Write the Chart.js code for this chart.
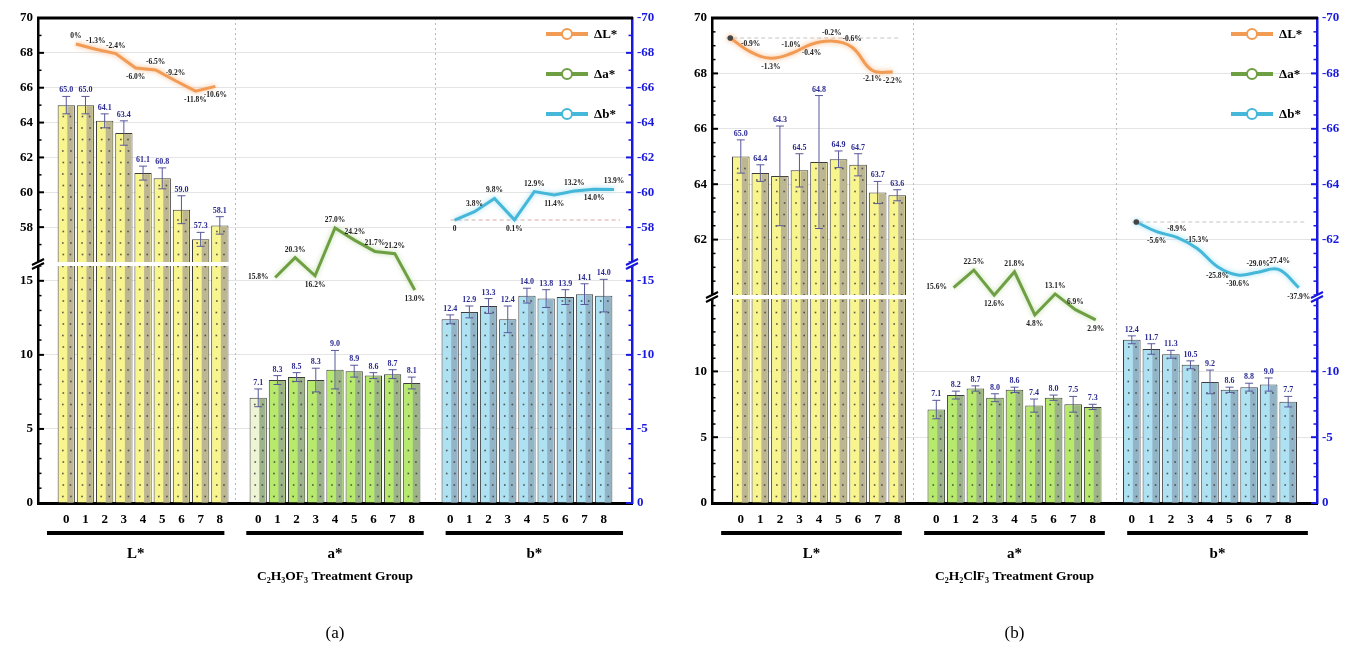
<!DOCTYPE html>
<html>
<head>
<meta charset="utf-8">
<script src="https://cdn.jsdelivr.net/npm/chart.js@4.4.1/dist/chart.umd.min.js"></script>
<style>
  html, body { margin:0; padding:0; background:#fff; }
  body { width:1355px; height:659px; position:relative; overflow:hidden; }
  canvas { position:absolute; }
</style>
</head>
<body>
<canvas id="aTop" width="680" height="262" style="left:0;top:0"></canvas>
<canvas id="aBot" width="680" height="393" style="left:0;top:266px"></canvas>
<canvas id="aOver" width="680" height="659" style="left:0;top:0"></canvas>
<canvas id="bTop" width="683" height="295" style="left:672px;top:0"></canvas>
<canvas id="bBot" width="683" height="360" style="left:672px;top:299px"></canvas>
<canvas id="bOver" width="683" height="659" style="left:672px;top:0"></canvas>
<script>
// ---------------- DATA ----------------
const groupNames = ['L*', 'a*', 'b*'];
const treatments = ['0', '1', '2', '3', '4', '5', '6', '7', '8'];
const deltaNames = ['ΔL*', 'Δa*', 'Δb*'];

// Panel (a): C2H3OF3
const aL    = [65.0, 65.0, 64.1, 63.4, 61.1, 60.8, 59.0, 57.3, 58.1];
const aLerr = [0.5, 0.5, 0.4, 0.7, 0.4, 0.6, 0.8, 0.4, 0.5];
const aA    = [7.1, 8.3, 8.5, 8.3, 9.0, 8.9, 8.6, 8.7, 8.1];
const aAerr = [0.6, 0.3, 0.3, 0.8, 1.3, 0.4, 0.2, 0.3, 0.4];
const aB    = [12.4, 12.9, 13.3, 12.4, 14.0, 13.8, 13.9, 14.1, 14.0];
const aBerr = [0.3, 0.4, 0.5, 0.9, 0.5, 0.6, 0.5, 0.7, 1.1];
const aDL   = [null, 0, -1.3, -2.4, -6.0, -6.5, -9.2, -11.8, -10.6];
const aDa   = [null, 15.8, 20.3, 16.2, 27.0, 24.2, 21.7, 21.2, 13.0];
const aDb   = [0, 3.8, 9.8, 0.1, 12.9, 11.4, 13.2, 14.0, 13.9];
const aTicksUpper = [58, 60, 62, 64, 66, 68, 70];
const aTicksLower = [0, 5, 10, 15];

// Panel (b): C2H2ClF3
const bL    = [65.0, 64.4, 64.3, 64.5, 64.8, 64.9, 64.7, 63.7, 63.6];
const bLerr = [0.6, 0.3, 1.8, 0.6, 2.4, 0.3, 0.4, 0.4, 0.2];
const bA    = [7.1, 8.2, 8.7, 8.0, 8.6, 7.4, 8.0, 7.5, 7.3];
const bAerr = [0.7, 0.3, 0.2, 0.3, 0.2, 0.5, 0.2, 0.6, 0.2];
const bB    = [12.4, 11.7, 11.3, 10.5, 9.2, 8.6, 8.8, 9.0, 7.7];
const bBerr = [0.3, 0.4, 0.3, 0.3, 0.9, 0.2, 0.3, 0.5, 0.4];
const bDL   = [0, -0.9, -1.3, -1.0, -0.4, -0.2, -0.6, -2.1, -2.2];
const bDa   = [null, 15.6, 22.5, 12.6, 21.8, 4.8, 13.1, 6.9, 2.9];
const bDb   = [0, -5.6, -8.9, -15.3, -25.8, -30.6, -29.0, -27.4, -37.9];
const bTicksUpper = [62, 64, 66, 68, 70];
const bTicksLower = [0, 5, 10];

// ---------------- STYLE / LAYOUT ----------------
const FONT = '"Liberation Serif","DejaVu Serif",serif';
Chart.defaults.font.family = FONT;
Chart.defaults.animation = false;

const barStyles = [
  { main: '#f8f48e', stripe: '#bdb692', pale: '#f8f48e' },
  { main: '#b6e96c', stripe: '#9db38a', pale: '#eef5d4' },
  { main: '#aee2f2', stripe: '#93b4c6', pale: '#cdeef8' }
];
const lineStyles = [
  { color: '#f29b55', glow: 'rgba(246,170,110,0.85)' },
  { color: '#6f9f43', glow: 'rgba(150,200,110,0.6)' },
  { color: '#45b7d9', glow: 'rgba(120,210,235,0.7)' }
];
const AXIS_BLUE = '#1818e0';
const barSlots = [];
groupNames.forEach((g, gi) => treatments.forEach((t, i) => barSlots.push(gi * 10 + i)));

const panels = [
  {
    ids: ['aTop', 'aBot', 'aOver'], width: 680, plotLeft: 38, plotRight: 632,
    upper: { min: 56, max: 70, ticks: aTicksUpper, minor: 1, h: 262 },
    lower: { min: 0, max: 16, ticks: aTicksLower, minor: 1, top: 266 },
    breakY: 264,
    bars: [aL, aA, aB], errs: [aLerr, aAerr, aBerr],
    deltas: [aDL, aDa, aDb],
    deltaAxes: [[-114.75, 6.5], [-35.1, 74.4], [-128.6, 91.8]],
    labelPos: [
      ['', 'a', 'a', 'a', 'b', 'a', 'a', 'b', 'b'],
      ['', 'l', 'a', 'b', 'a', 'a', 'a', 'a', 'b'],
      ['b', 'a', 'a', 'b', 'a', 'b', 'a', 'b', 'a']
    ],
    tension: [0, 0, 0], startDot: false,
    refs: [{ line: 2, color: '#d9a9a9' }],
    paleFirstA: true,
    title: 'C₂H₃OF₃ Treatment Group', caption: '(a)'
  },
  {
    ids: ['bTop', 'bBot', 'bOver'], width: 683, plotLeft: 40, plotRight: 645,
    upper: { min: 60, max: 70, ticks: bTicksUpper, minor: 0.5, h: 295 },
    lower: { min: 0, max: 15.5, ticks: bTicksLower, minor: 1, top: 299 },
    breakY: 297,
    bars: [bL, bA, bB], errs: [bLerr, bAerr, bBerr],
    deltas: [bDL, bDa, bDb],
    deltaAxes: [[-30.0, 1.29], [-69.2, 121.7], [-162.4, 117.9]],
    labelPos: [
      ['', 'a', 'b', 'a', 'b', 'a', 'a', 'b', 'b'],
      ['', 'l', 'a', 'b', 'a', 'b', 'a', 'a', 'b'],
      ['', 'b', 'a', 'a', 'b', 'b', 'a', 'a', 'b']
    ],
    tension: [0.4, 0, 0.4], startDot: true,
    refs: [{ line: 0, color: '#c4c4c4' }, { line: 2, color: '#c4c4c4' }],
    paleFirstA: false,
    title: 'C₂H₂ClF₃ Treatment Group', caption: '(b)'
  }
];

// ---------------- PLUGINS ----------------
const barDecor = {
  id: 'barDecor',
  afterDatasetDraw(chart, args) {
    const ds = chart.data.datasets[args.index];
    if (!ds.decor) return;
    const ctx = chart.ctx, ca = chart.chartArea;
    ctx.save();
    ctx.beginPath();
    ctx.rect(ca.left, ca.top, ca.right - ca.left, ca.bottom - ca.top);
    ctx.clip();
    args.meta.data.forEach((el) => {
      const p = el.getProps(['x', 'y', 'base', 'width'], true);
      const top = Math.min(p.y, p.base), bot = Math.max(p.y, p.base);
      const l = p.x - p.width / 2;
      ctx.fillStyle = ds.decor.stripe;
      ctx.fillRect(l + p.width * 0.56, top + 1, p.width * 0.36, bot - top - 1);
      ctx.fillStyle = 'rgba(60,60,60,0.85)';
      const cols = [l + p.width * 0.3, l + p.width * 0.74];
      let k = 0;
      for (let yy = bot - 6; yy > top + 3; yy -= 11.5) {
        if (yy < ca.bottom + 2 && yy > ca.top - 2) {
          cols.forEach((c, ci) => ctx.fillRect(c - 0.8 + ((k + ci) % 2 ? 0.5 : 0), yy - 0.8, 1.6, 1.6));
        }
        k++;
      }
    });
    ctx.restore();
  }
};

const errBars = {
  id: 'errBars',
  afterDatasetsDraw(chart) {
    const ctx = chart.ctx, ca = chart.chartArea, ys = chart.scales.y;
    ctx.save();
    ctx.beginPath();
    ctx.rect(ca.left, ca.top, ca.right - ca.left, ca.bottom - ca.top);
    ctx.clip();
    chart.data.datasets.forEach((ds, di) => {
      if (!ds.err) return;
      chart.getDatasetMeta(di).data.forEach((el, i) => {
        const v = ds.data[i].y, e = ds.err[i];
        const x = el.x;
        const yt = ys.getPixelForValue(v + e), yb = ys.getPixelForValue(v - e);
        ctx.strokeStyle = '#58589a';
        ctx.lineWidth = 1;
        ctx.beginPath();
        ctx.moveTo(x, yt); ctx.lineTo(x, yb);
        ctx.moveTo(x - 4, yt); ctx.lineTo(x + 4, yt);
        ctx.moveTo(x - 4, yb); ctx.lineTo(x + 4, yb);
        ctx.stroke();
        if (yt > ca.top + 6 && yt < ca.bottom) {
          ctx.fillStyle = '#2a2a92';
          ctx.font = 'bold 8px ' + FONT;
          ctx.textAlign = 'center';
          ctx.textBaseline = 'bottom';
          ctx.fillText(v.toFixed(1), x, yt - 2);
        }
      });
    });
    ctx.restore();
  }
};

const axisTicks = {
  id: 'axisTicks',
  afterDraw(chart, args, opts) {
    if (!opts || !opts.seg) return;
    const seg = opts.seg, ctx = chart.ctx, ca = chart.chartArea, ys = chart.scales.y;
    ctx.save();
    const steps = Math.round((seg.max - seg.min) / seg.minor);
    for (let s = 0; s <= steps; s++) {
      const v = seg.min + s * seg.minor;
      const major = seg.ticks.some(t => Math.abs(t - v) < 1e-6);
      const len = major ? 6 : 3.5;
      const y = ys.getPixelForValue(v);
      if (y < ca.top - 0.5 || y > ca.bottom + 0.5) continue;
      ctx.lineWidth = major ? 2 : 1.5;
      ctx.strokeStyle = '#000';
      ctx.beginPath(); ctx.moveTo(ca.left, y); ctx.lineTo(ca.left + len, y); ctx.stroke();
      ctx.strokeStyle = AXIS_BLUE;
      ctx.beginPath(); ctx.moveTo(ca.right, y); ctx.lineTo(ca.right - len, y); ctx.stroke();
    }
    ctx.restore();
  }
};

const glowPlugin = {
  id: 'glow',
  beforeDatasetDraw(chart, args) {
    const ds = chart.data.datasets[args.index];
    chart.ctx.save();
    if (ds.glow) { chart.ctx.shadowColor = ds.glow; chart.ctx.shadowBlur = 5; }
  },
  afterDatasetDraw(chart) { chart.ctx.restore(); }
};

const overlayDecor = {
  id: 'overlayDecor',
  beforeDatasetsDraw(chart, args, o) {
    const p = o.panel; if (!p) return;
    const ctx = chart.ctx, ca = chart.chartArea, xs = chart.scales.x;
    ctx.save();
    // dotted separators between groups
    ctx.strokeStyle = '#b9b9b9'; ctx.lineWidth = 1; ctx.setLineDash([2, 3]);
    [9, 19].forEach(s => {
      const x = Math.round(xs.getPixelForValue(s)) + 0.5;
      ctx.beginPath(); ctx.moveTo(x, ca.top); ctx.lineTo(x, ca.bottom); ctx.stroke();
    });
    // zero reference lines for deltas
    ctx.setLineDash([4, 3]);
    p.refs.forEach(r => {
      const y = chart.scales['d' + r.line].getPixelForValue(0);
      ctx.strokeStyle = r.color; ctx.lineWidth = 1.2;
      ctx.beginPath();
      ctx.moveTo(xs.getPixelForValue(r.line * 10 - 0.2), y);
      ctx.lineTo(xs.getPixelForValue(r.line * 10 + 8.3), y);
      ctx.stroke();
    });
    ctx.restore();
  },
  afterDraw(chart, args, o) {
    const p = o.panel; if (!p) return;
    const ctx = chart.ctx, ca = chart.chartArea, xs = chart.scales.x;
    ctx.save();
    // top frame line
    ctx.strokeStyle = '#000'; ctx.lineWidth = 3;
    ctx.beginPath(); ctx.moveTo(ca.left - 1, ca.top); ctx.lineTo(ca.right + 1, ca.top); ctx.stroke();

    // break marks
    const by = p.breakY;
    [[ca.left, '#000'], [ca.right, AXIS_BLUE]].forEach(([x, col]) => {
      ctx.fillStyle = '#fff';
      ctx.fillRect(x - 6, by - 2, 12, 4);
      ctx.strokeStyle = col; ctx.lineWidth = 2;
      ctx.beginPath();
      ctx.moveTo(x - 6, by + 1); ctx.lineTo(x + 6, by - 5);
      ctx.moveTo(x - 6, by + 5); ctx.lineTo(x + 6, by - 1);
      ctx.stroke();
    });

    // delta point labels
    ctx.font = 'bold 7.5px ' + FONT;
    ctx.fillStyle = '#222';
    ctx.textAlign = 'center';
    ctx.textBaseline = 'middle';
    chart.data.datasets.forEach((ds, di) => {
      const meta = chart.getDatasetMeta(di);
      meta.data.forEach((el, j) => {
        const d = ds.data[j];
        const pos = ds.labelPos[d.idx];
        if (!pos) return;
        const txt = d.y === 0 ? (d.idx === 0 ? '0' : '0%') : d.y.toFixed(1) + '%';
        let x = el.x, y = el.y;
        if (pos === 'a') y -= 8;
        else if (pos === 'b') y += 9;
        else if (pos === 'l') x -= 17;
        else if (pos === 'r') x += 17;
        ctx.fillText(txt, x, y);
      });
    });

    // legend
    chart.data.datasets.forEach((ds, di) => {
      const y = ca.top + 16 + di * 40;
      const x1 = ca.right - 86, x2 = ca.right - 44;
      ctx.strokeStyle = ds.borderColor; ctx.lineWidth = 4;
      ctx.beginPath(); ctx.moveTo(x1, y); ctx.lineTo(x2, y); ctx.stroke();
      ctx.fillStyle = '#fff'; ctx.lineWidth = 2;
      ctx.beginPath(); ctx.arc((x1 + x2) / 2, y, 5, 0, Math.PI * 2); ctx.fill(); ctx.stroke();
      ctx.fillStyle = '#000';
      ctx.font = 'bold 13px ' + FONT;
      ctx.textAlign = 'left'; ctx.textBaseline = 'middle';
      ctx.fillText(ds.label, ca.right - 38, y + 1);
    });

    // group underline + group names
    groupNames.forEach((g, gi) => {
      const xl = xs.getPixelForValue(gi * 10 - 0.45), xr = xs.getPixelForValue(gi * 10 + 8.45);
      ctx.fillStyle = '#000';
      ctx.fillRect(xl, 531, xr - xl, 4);
      ctx.font = 'bold 15px ' + FONT;
      ctx.textAlign = 'center'; ctx.textBaseline = 'middle';
      ctx.fillText(g, (xl + xr) / 2, 554);
    });
    // axis title
    const cx = (ca.left + ca.right) / 2;
    ctx.font = 'bold 13.5px ' + FONT;
    ctx.fillText(p.title, cx, 577);
    // caption
    ctx.font = '17px ' + FONT;
    ctx.fillText(p.caption, cx, 634);
    ctx.restore();
  }
};

// ---------------- BUILDERS ----------------
function xScale(display) {
  return {
    type: 'linear', min: -0.9, max: 28.9, display: display,
    grid: { display: false, drawTicks: false },
    border: { display: display, color: '#000', width: 3 },
    afterBuildTicks: s => { s.ticks = barSlots.map(v => ({ value: v })); },
    ticks: {
      autoSkip: false, maxRotation: 0, padding: 9, color: '#000',
      font: { size: 13, weight: 'bold' },
      callback: v => treatments[Math.round(v) % 10] || ''
    },
    afterFit: s => { if (display) s.height = 156; s.paddingLeft = 0; s.paddingRight = 0; }
  };
}

function yScales(p, seg) {
  const base = {
    type: 'linear', min: seg.min, max: seg.max,
    afterBuildTicks: s => { s.ticks = seg.ticks.map(v => ({ value: v })); }
  };
  return {
    y: Object.assign({}, base, {
      position: 'left',
      grid: { color: '#e4e4e4', drawTicks: false },
      border: { color: '#000', width: 2.5 },
      ticks: { color: '#000', padding: 5, font: { size: 13, weight: 'bold' } },
      afterFit: s => { s.width = p.plotLeft; s.paddingTop = 0; s.paddingBottom = 0; }
    }),
    y2: Object.assign({}, base, {
      position: 'right',
      grid: { display: false, drawTicks: false },
      border: { color: AXIS_BLUE, width: 2.5 },
      ticks: {
        color: AXIS_BLUE, padding: 5, font: { size: 13, weight: 'bold' },
        callback: v => (v === 0 ? '0' : '-' + v)
      },
      afterFit: s => { s.width = p.width - p.plotRight; s.paddingTop = 0; s.paddingBottom = 0; }
    })
  };
}

function barDatasets(p) {
  return groupNames.map((g, gi) => ({
    type: 'bar',
    label: g,
    data: p.bars[gi].map((v, i) => ({ x: gi * 10 + i, y: v })),
    err: p.errs[gi],
    decor: barStyles[gi],
    grouped: false,
    backgroundColor: c => (gi === 1 && p.paleFirstA && c.dataIndex === 0) ? barStyles[gi].pale : barStyles[gi].main,
    borderColor: '#3c3c3c',
    borderWidth: 1,
    borderSkipped: 'start',
    categoryPercentage: 1,
    barPercentage: 0.9
  }));
}

function makeBarChart(id, p, seg, isTop) {
  const scales = Object.assign({ x: xScale(!isTop) }, yScales(p, seg));
  return new Chart(document.getElementById(id), {
    type: 'bar',
    data: { datasets: barDatasets(p) },
    options: {
      responsive: false, animation: false,
      layout: { padding: { top: isTop ? 18 : 0, bottom: 0, left: 0, right: 0 } },
      scales: scales,
      plugins: { legend: { display: false }, tooltip: { enabled: false }, axisTicks: { seg: seg } }
    },
    plugins: [barDecor, errBars, axisTicks]
  });
}

function makeOverlay(id, p) {
  const scales = { x: xScale(false) };
  p.deltaAxes.forEach((r, k) => { scales['d' + k] = { type: 'linear', display: false, min: r[0], max: r[1] }; });
  const datasets = p.deltas.map((vals, k) => ({
    type: 'line',
    label: deltaNames[k],
    yAxisID: 'd' + k,
    data: vals.map((v, i) => (v === null ? null : { x: k * 10 + i, y: v, idx: i })).filter(Boolean),
    labelPos: p.labelPos[k],
    borderColor: lineStyles[k].color,
    glow: lineStyles[k].glow,
    borderWidth: 3,
    tension: p.tension[k],
    pointRadius: c => (p.startDot && c.dataIndex === 0 && vals[0] === 0) ? 2.8 : 0,
    pointBackgroundColor: '#444',
    pointBorderWidth: 0,
    fill: false
  }));
  return new Chart(document.getElementById(id), {
    type: 'line',
    data: { datasets: datasets },
    options: {
      responsive: false, animation: false,
      layout: { padding: { top: 18, bottom: 156, left: p.plotLeft, right: p.width - p.plotRight } },
      scales: scales,
      plugins: { legend: { display: false }, tooltip: { enabled: false }, overlayDecor: { panel: p } }
    },
    plugins: [glowPlugin, overlayDecor]
  });
}

panels.forEach(p => {
  makeBarChart(p.ids[0], p, p.upper, true);
  makeBarChart(p.ids[1], p, p.lower, false);
  makeOverlay(p.ids[2], p);
});
</script>
</body>
</html>
